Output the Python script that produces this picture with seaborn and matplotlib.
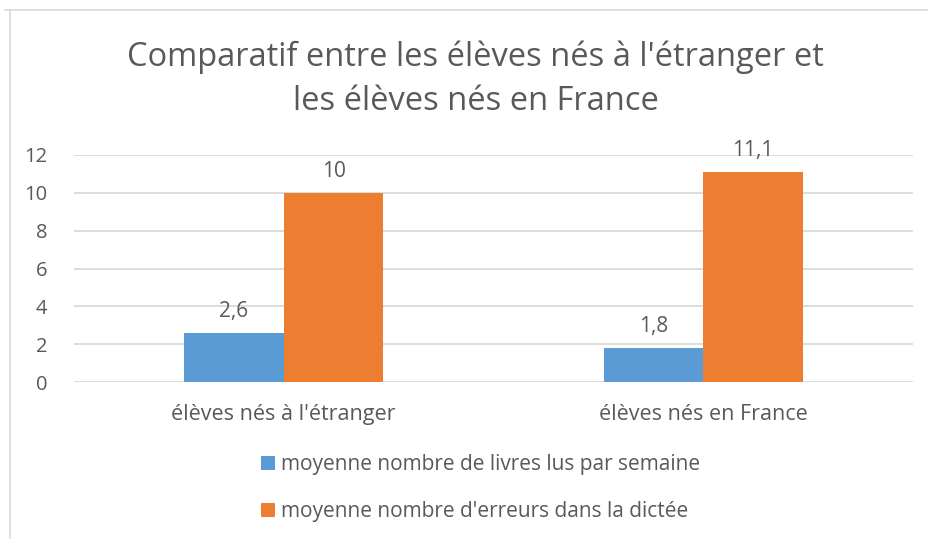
import matplotlib
matplotlib.use("Agg")
import matplotlib.pyplot as plt
from matplotlib.lines import Line2D
import seaborn as sns
import pandas as pd

categories = ["élèves nés à l'étranger", "élèves nés en France"]
series_names = ["moyenne nombre de livres lus par semaine",
                "moyenne nombre d'erreurs dans la dictée"]
livres = [2.6, 1.8]
erreurs = [10, 11.1]
yticks = [0, 2, 4, 6, 8, 10, 12]
title = "Comparatif entre les élèves nés à l'étranger et\nles élèves nés en France"

colors = ["#5B9BD5", "#ED7D31"]
text_color = "#595959"
grid_color = "#D9D9D9"

df = pd.DataFrame({
    "cat": categories * 2,
    "serie": [series_names[0]] * 2 + [series_names[1]] * 2,
    "val": livres + erreurs,
})

sns.set_theme(style="white")
plt.rcParams['font.family'] = ['Open Sans', 'DejaVu Sans']

fig = plt.figure(figsize=(9.29, 5.39), dpi=100)
ax = fig.add_axes([74 / 929, 1 - 382 / 539, (913 - 74) / 929, (382 - 155) / 539])

sns.barplot(data=df, x="cat", y="val", hue="serie", order=categories,
            hue_order=series_names, palette=colors, width=0.475,
            saturation=1, ax=ax, legend=True, edgecolor="none")

ax.set_ylim(0, 12)
ax.set_yticks(yticks)
ax.set_yticklabels([str(t) for t in yticks])
ax.set_xlabel("")
ax.set_ylabel("")
for s in ax.spines.values():
    s.set_visible(False)
ax.yaxis.grid(True, color=grid_color, linewidth=1.3)
ax.set_axisbelow(True)
ax.tick_params(axis="y", length=0, pad=19, labelsize=14.5, labelcolor=text_color)
ax.tick_params(axis="x", length=0, pad=15.5, labelsize=15.5, labelcolor=text_color)

def fmt(v):
    s = ("%g" % v).replace(".", ",")
    return s

for cont in ax.containers:
    ax.bar_label(cont, labels=[fmt(b.get_height()) for b in cont],
                 padding=8, fontsize=15, color=text_color)

leg = ax.legend(loc="upper left", bbox_to_anchor=(261 / 929, 1 - 454 / 539),
                bbox_transform=fig.transFigure, frameon=False, ncol=1,
                fontsize=15, handlelength=0.65, handleheight=0.65,
                handletextpad=0.3, labelspacing=1.25, borderaxespad=0,
                borderpad=0)
for t in leg.get_texts():
    t.set_color(text_color)

fig.text(0.5 + 11 / 929, 1 - 79 / 539, title, ha="center", va="center",
         fontsize=23.5, color=text_color, linespacing=1.45)

# chart border (top and left visible)
fig.add_artist(Line2D([5 / 929, 1], [1 - 10 / 539, 1 - 10 / 539],
                      transform=fig.transFigure, color=grid_color, linewidth=1.2))
fig.add_artist(Line2D([10 / 929, 10 / 929], [0, 1 - 10 / 539],
                      transform=fig.transFigure, color=grid_color, linewidth=1.2))

fig.savefig("out.png", dpi=100, facecolor="white")
